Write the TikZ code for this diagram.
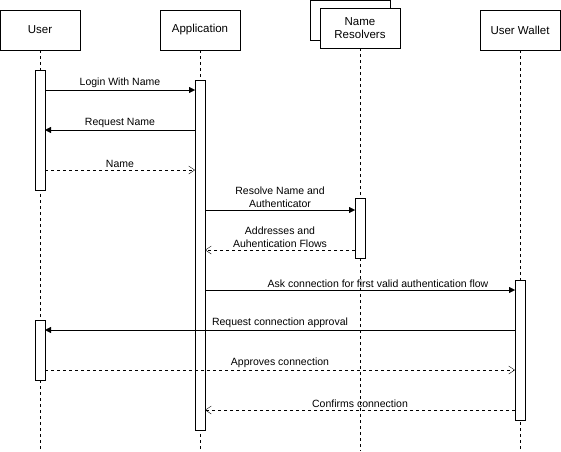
\documentclass[tikz,border=0pt]{standalone}
\usepackage{fontspec}
\setmainfont{Liberation Sans}
\usetikzlibrary{arrows.meta}
\begin{document}
\begin{tikzpicture}[x=1pt,y=-1pt,
  head/.style={draw,fill=white,minimum width=80pt,minimum height=40pt,font=\fontsize{11.5}{13}\selectfont,align=center,inner sep=1pt},
  life/.style={dashed,dash pattern=on 3pt off 3pt},
  act/.style={draw,fill=white},
  msg/.style={-{Triangle[length=6pt,width=6pt]}},
  ret/.style={dashed,dash pattern=on 3pt off 3pt,-{Straight Barb[length=6pt,width=8pt]}},
  lbl/.style={font=\fontsize{10.5}{13}\selectfont,align=center,above,inner sep=2pt}]
\useasboundingbox (0,0) rectangle (561,451);
\draw (310,0) rectangle (390,40);
\node[head] (u) at (40,30) {User};
\node[head] (a) at (200,30) {Application};
\node[head] (n) at (360,28) {Name\\Resolvers};
\node[head] (w) at (520,30) {User Wallet};
\draw[life] (u.south) -- (40,451);
\draw[life] (a.south) -- (200,451);
\draw[life] (n.south) -- (360,451);
\draw[life] (w.south) -- (520,451);
\draw[act] (35,70) rectangle (45,190);
\draw[act] (35,320) rectangle (45,380);
\draw[act] (195,80) rectangle (205,430);
\draw[act] (355,198) rectangle (365,258);
\draw[act] (515,280) rectangle (525,420);
\coordinate (p1) at (45,90); \coordinate (q1) at (195,90);
\draw[msg] (p1) -- node[lbl]{Login With Name} (q1);
\coordinate (p2) at (195,130); \coordinate (q2) at (45,130);
\draw[msg] (p2) -- node[lbl]{Request Name} (q2);
\coordinate (p3) at (45,170); \coordinate (q3) at (195,170);
\draw[ret] (p3) -- node[lbl]{Name} (q3);
\coordinate (p4) at (205,210); \coordinate (q4) at (355,210);
\draw[msg] (p4) -- node[lbl]{Resolve Name and\\Authenticator} (q4);
\coordinate (p5) at (355,250); \coordinate (q5) at (205,250);
\draw[ret] (p5) -- node[lbl]{Addresses and\\Auhentication Flows} (q5);
\coordinate (p6) at (205,290); \coordinate (q6) at (515,290);
\draw[msg] (p6) -- node[lbl,xshift=18pt]{Ask connection for first valid authentication flow} (q6);
\coordinate (p7) at (515,330); \coordinate (q7) at (45,330);
\draw[msg] (p7) -- node[lbl]{Request connection approval} (q7);
\coordinate (p8) at (45,370); \coordinate (q8) at (515,370);
\draw[ret] (p8) -- node[lbl]{Approves connection} (q8);
\coordinate (p9) at (515,410); \coordinate (q9) at (205,410);
\draw[ret] (p9) -- node[lbl]{Confirms connection} (q9);
\end{tikzpicture}
\end{document}
